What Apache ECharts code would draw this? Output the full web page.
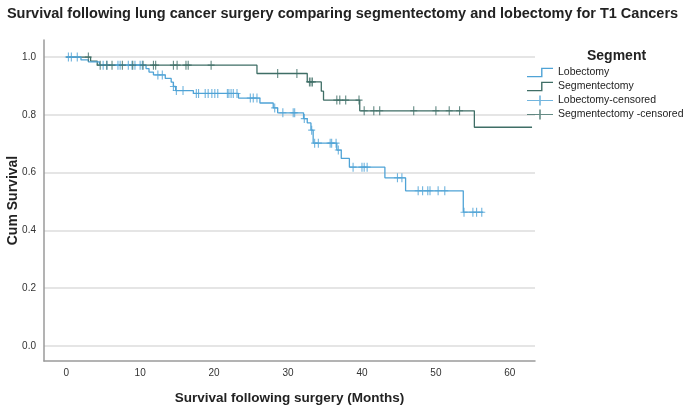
<!DOCTYPE html>
<html>
<head>
<meta charset="utf-8">
<script src="https://cdn.jsdelivr.net/npm/echarts@6/dist/echarts.min.js"></script>
<style>
html, body { margin: 0; padding: 0; background: #fff; }
#km { width: 685px; height: 405px; }
</style>
</head>
<body>
<div id="km"></div>
<script>
// Kaplan-Meier steps: time (months) where the curve drops, survival after the drop
var lobTimes = [0, 2.0, 3.0, 4.5, 10.8, 11.2, 11.8, 13.4, 14.2, 14.5, 14.8, 17.2, 23.3, 26.2, 28.0, 28.6, 32.1, 32.6, 33.1, 33.4, 36.6, 37.2, 38.3, 43.1, 45.9, 53.7, 56.4];
var lobSurv = [1.0, 0.990, 0.983, 0.972, 0.960, 0.948, 0.938, 0.926, 0.913, 0.898, 0.884, 0.874, 0.858, 0.841, 0.824, 0.807, 0.787, 0.772, 0.747, 0.702, 0.678, 0.649, 0.619, 0.582, 0.537, 0.463, 0.463];
var segTimes = [0, 3.3, 4.2, 25.8, 32.6, 34.5, 34.8, 39.7, 55.2, 63.0];
var segSurv = [1.0, 0.986, 0.972, 0.943, 0.914, 0.882, 0.851, 0.814, 0.757, 0.757];

// censored cases (months)
var lobCensored = [0.3, 0.7, 1.5, 5.0, 5.5, 7.0, 7.3, 8.4, 8.9, 9.3, 10.0, 10.3, 12.4, 13.0, 14.5, 14.9, 15.8, 17.6, 17.9, 18.8, 19.2, 19.7, 20.1, 20.5, 21.8, 22.0, 22.3, 22.6, 23.1, 24.9, 25.3, 25.8, 28.2, 29.3, 30.7, 30.9, 32.2, 33.2, 33.6, 34.1, 35.7, 35.9, 36.5, 36.8, 38.8, 40.0, 40.3, 40.7, 44.8, 45.4, 47.6, 48.2, 48.9, 49.2, 50.3, 51.2, 53.8, 55.0, 55.5, 56.2];
var segCensored = [3.0, 4.6, 5.5, 6.2, 7.6, 9.0, 10.4, 11.8, 12.1, 14.5, 15.0, 16.2, 16.5, 19.6, 28.6, 31.2, 32.9, 33.1, 33.3, 36.6, 37.0, 37.8, 39.6, 40.3, 41.6, 42.4, 47.0, 50.0, 51.8, 53.2];

var xTicks = [0, 10, 20, 30, 40, 50, 60];
var yTicks = [0, 0.2, 0.4, 0.6, 0.8, 1.0];

var lobColor = "#4fa3d6";
var segColor = "#3f6e66";

function steps(times, surv) {
  return times.map(function (t, i) { return [t, surv[i]]; });
}
// survival level of the step curve at time t
function levelAt(times, surv, t) {
  var s = surv[0];
  for (var i = 0; i < times.length; i++) {
    if (times[i] <= t) s = surv[i];
  }
  return s;
}
function marks(cens, times, surv) {
  return cens.map(function (t) { return [t, levelAt(times, surv, t)]; });
}

var plusMark = "path://M4.2,0h1.6v4.4h4.2v1.2h-4.2v4.4h-1.6v-4.4h-4.2v-1.2h4.2z";
var stepIcon = "path://M0,8.4h13v-7.6h11v1.3h-9.7v7.6h-14.3z";
var plusIcon = "path://M0,4.4h12.2v-4.4h1.6v4.4h12.2v1.2h-12.2v4.4h-1.6v-4.4h-12.2z";

var chart = echarts.init(document.getElementById("km"));

var option = {
  animation: false,
  textStyle: { fontFamily: "Liberation Sans, Arial, sans-serif" },
  title: [
    {
      text: "Survival following lung cancer surgery comparing segmentectomy and lobectomy for T1 Cancers",
      left: "center",
      top: 1,
      textStyle: { fontSize: 14.5, fontWeight: "bold", color: "#222" }
    },
    {
      text: "Segment",
      left: 582,
      top: 44,
      textStyle: { fontSize: 14, fontWeight: "bold", color: "#222" }
    }
  ],
  legend: {
    orient: "vertical",
    left: 527,
    top: 67,
    padding: 0,
    itemGap: 3,
    itemWidth: 26,
    itemHeight: 10,
    textStyle: { fontSize: 10.5, color: "#222", lineHeight: 11 },
    data: [
      { name: "Lobectomy", icon: stepIcon },
      { name: "Segmentectomy", icon: stepIcon },
      { name: "Lobectomy-censored", icon: plusIcon },
      { name: "Segmentectomy -censored", icon: plusIcon }
    ]
  },
  grid: { left: 44, right: 150, top: 40, bottom: 44, containLabel: false, outerBoundsMode: "none" },
  xAxis: {
    type: "value",
    min: -3,
    max: 63.4,
    name: "Survival following surgery (Months)",
    nameLocation: "middle",
    nameGap: 30,
    nameTextStyle: { fontSize: 13.5, fontWeight: "bold", color: "#222" },
    axisLine: { onZero: false, lineStyle: { color: "#9a9a9a", width: 1.5 } },
    axisTick: { show: false, customValues: xTicks },
    axisLabel: { customValues: xTicks, fontSize: 10, color: "#333", margin: 7 },
    splitLine: { show: false }
  },
  yAxis: {
    type: "value",
    min: -0.052,
    max: 1.059,
    name: "Cum Survival",
    nameLocation: "middle",
    nameGap: 24,
    nameMoveOverlap: false,
    nameTextStyle: { fontSize: 14, fontWeight: "bold", color: "#222" },
    axisLine: { show: true, onZero: false, lineStyle: { color: "#9a9a9a", width: 1.5 } },
    axisTick: { show: false, customValues: yTicks },
    axisLabel: {
      customValues: yTicks,
      fontSize: 10,
      color: "#333",
      margin: 8,
      formatter: function (v) { return v.toFixed(1); }
    },
    splitLine: { show: true, lineStyle: { color: "#dcdcdc", width: 1.5 } }
  },
  series: [
    {
      name: "Lobectomy",
      type: "line",
      step: "end",
      symbol: "none",
      data: steps(lobTimes, lobSurv),
      lineStyle: { color: lobColor, width: 1.3 },
      itemStyle: { color: lobColor },
      z: 3
    },
    {
      name: "Segmentectomy",
      type: "line",
      step: "end",
      symbol: "none",
      data: steps(segTimes, segSurv),
      lineStyle: { color: segColor, width: 1.3 },
      itemStyle: { color: segColor },
      z: 2
    },
    {
      name: "Lobectomy-censored",
      type: "scatter",
      symbol: plusMark,
      symbolSize: [7, 9],
      data: marks(lobCensored, lobTimes, lobSurv),
      itemStyle: { color: lobColor },
      z: 4
    },
    {
      name: "Segmentectomy -censored",
      type: "scatter",
      symbol: plusMark,
      symbolSize: [7, 9],
      data: marks(segCensored, segTimes, segSurv),
      itemStyle: { color: segColor },
      z: 4
    }
  ]
};
chart.setOption(option);
</script>
</body>
</html>
